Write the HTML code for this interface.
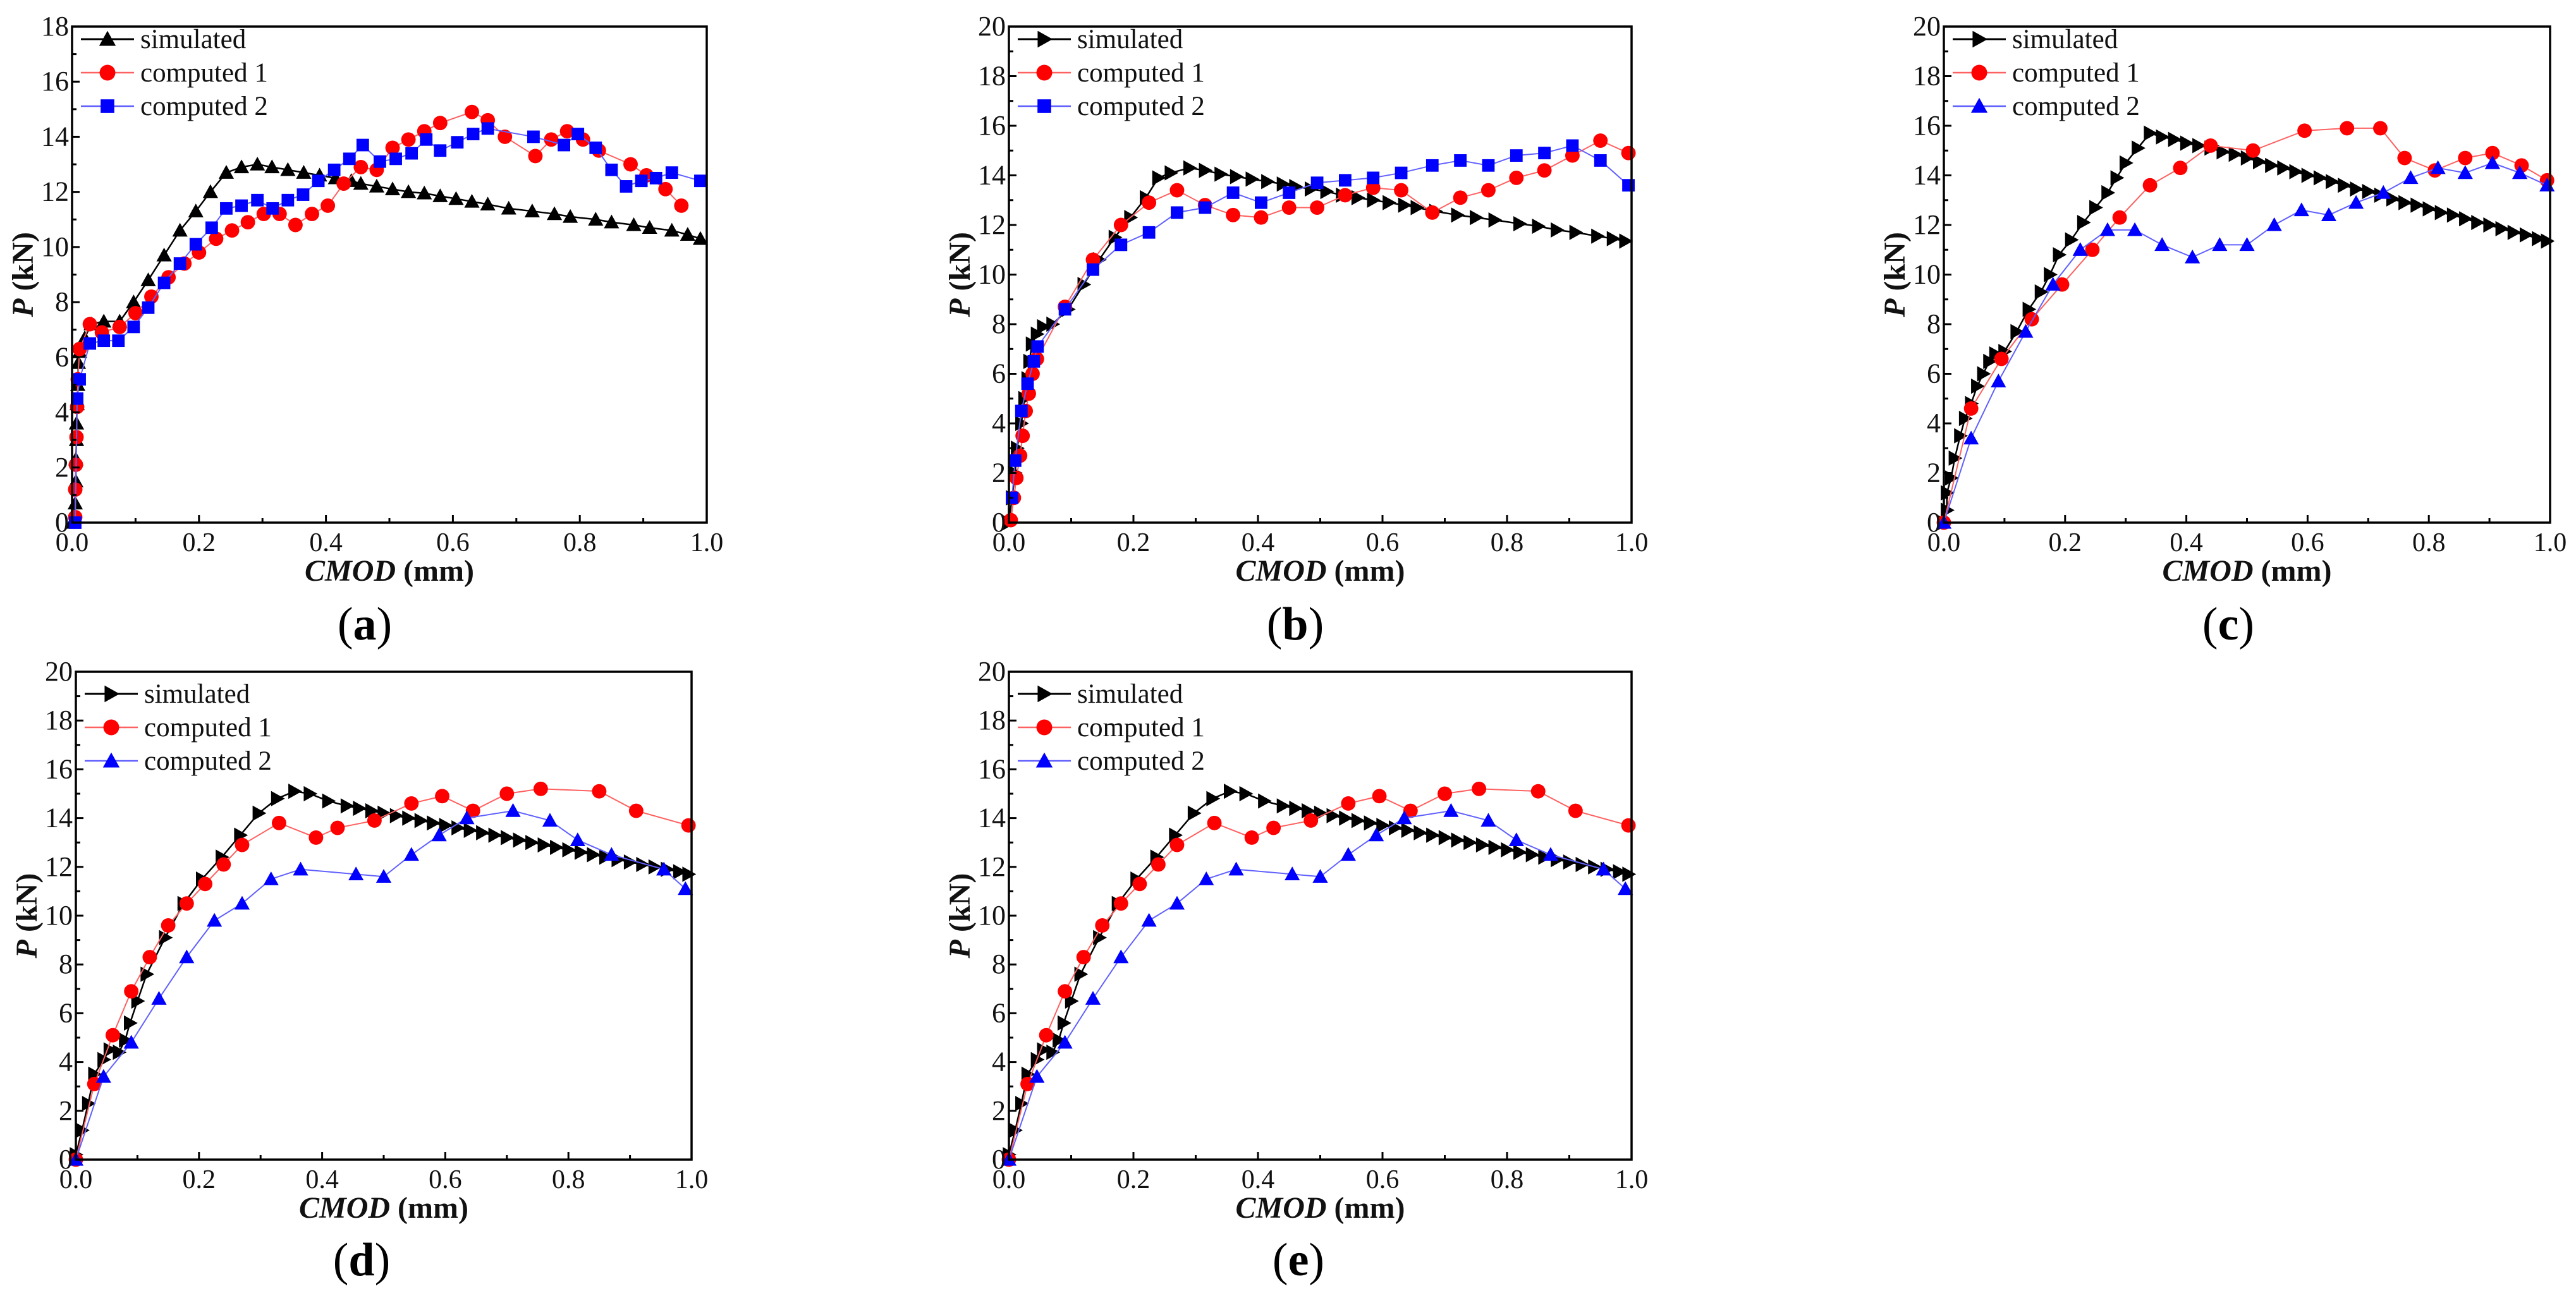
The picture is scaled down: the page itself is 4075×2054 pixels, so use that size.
<!DOCTYPE html>
<html><head><meta charset="utf-8"><style>
html,body{margin:0;padding:0;background:#fff;}
svg{display:block;font-family:"Liberation Serif",serif;}
</style></head><body>
<svg id="fig" width="4075" height="2054" viewBox="0 0 4075 2054" xmlns="http://www.w3.org/2000/svg"></svg>
<script>
// ---- Panel (a) data ----
const aSimX=[0,0.005,0.006,0.006,0.007,0.007,0.008,0.009,0.01,0.012,0.02,0.03,0.05,0.075,0.097,0.12,0.145,0.17,0.195,0.218,0.243,0.267,0.292,0.315,0.34,0.365,0.39,0.415,0.44,0.455,0.48,0.505,0.53,0.555,0.58,0.605,0.63,0.655,0.688,0.725,0.76,0.785,0.825,0.85,0.885,0.91,0.945,0.97,0.99];
const aSimY=[0,0.7,1.5,2.3,3,3.6,4.3,5,5.8,6.2,6.7,7.2,7.3,7.3,8,8.8,9.7,10.6,11.3,12,12.7,12.9,13,12.9,12.8,12.7,12.6,12.5,12.4,12.3,12.2,12.1,12.0,11.95,11.85,11.75,11.65,11.55,11.4,11.3,11.2,11.1,11.0,10.9,10.8,10.7,10.6,10.45,10.3];
const aC1X=[0.005,0.005,0.006,0.007,0.008,0.009,0.012,0.028,0.047,0.075,0.1,0.125,0.152,0.177,0.2,0.227,0.252,0.277,0.302,0.327,0.352,0.378,0.403,0.428,0.455,0.48,0.505,0.53,0.555,0.58,0.63,0.655,0.682,0.73,0.755,0.78,0.805,0.83,0.88,0.905,0.935,0.96];
const aC1Y=[0.2,1.2,2.1,3.1,4.2,5.2,6.3,7.2,6.9,7.1,7.6,8.2,8.9,9.4,9.8,10.3,10.6,10.9,11.2,11.2,10.8,11.2,11.5,12.3,12.9,12.8,13.6,13.9,14.2,14.5,14.9,14.6,14.0,13.3,13.9,14.2,13.9,13.5,13.0,12.6,12.1,11.5];
const aC2X=[0.005,0.008,0.012,0.028,0.05,0.073,0.097,0.12,0.145,0.17,0.195,0.22,0.243,0.267,0.292,0.316,0.34,0.364,0.388,0.413,0.437,0.458,0.485,0.51,0.535,0.558,0.58,0.607,0.632,0.655,0.727,0.775,0.797,0.825,0.85,0.873,0.897,0.92,0.945,0.99];
const aC2Y=[0,4.5,5.2,6.5,6.6,6.6,7.1,7.8,8.7,9.4,10.1,10.7,11.4,11.5,11.7,11.4,11.7,11.9,12.4,12.8,13.2,13.7,13.1,13.2,13.4,13.9,13.5,13.8,14.1,14.3,14.0,13.7,14.1,13.6,12.8,12.2,12.4,12.5,12.7,12.4];
// ---- Panel (b) data ----
const bSimX=[0,0.005,0.01,0.013,0.02,0.025,0.03,0.033,0.037,0.045,0.055,0.07,0.095,0.12,0.145,0.17,0.195,0.22,0.24,0.26,0.29,0.315,0.34,0.365,0.39,0.415,0.44,0.46,0.485,0.51,0.535,0.56,0.585,0.61,0.635,0.655,0.685,0.72,0.75,0.78,0.82,0.85,0.88,0.91,0.945,0.97,0.99];
const bSimY=[0,1,2,3,4,5,5.8,6.5,7.2,7.6,7.9,8,8.6,9.6,10.6,11.5,12.3,13.1,13.9,14.1,14.3,14.2,14.05,13.95,13.85,13.75,13.65,13.55,13.45,13.35,13.2,13.1,13.0,12.9,12.8,12.7,12.55,12.4,12.3,12.2,12.05,11.95,11.8,11.7,11.55,11.45,11.35];
const bC1X=[0.003,0.008,0.012,0.018,0.022,0.027,0.032,0.038,0.045,0.09,0.135,0.18,0.225,0.27,0.315,0.36,0.405,0.45,0.495,0.54,0.585,0.63,0.68,0.725,0.77,0.815,0.86,0.905,0.95,0.995];
const bC1Y=[0.1,1,1.8,2.7,3.5,4.5,5.2,6,6.6,8.7,10.6,12,12.9,13.4,12.8,12.4,12.3,12.7,12.7,13.2,13.5,13.4,12.5,13.1,13.4,13.9,14.2,14.8,15.4,14.9];
const bC2X=[0.005,0.01,0.02,0.03,0.04,0.046,0.09,0.135,0.18,0.225,0.27,0.315,0.36,0.405,0.45,0.495,0.54,0.585,0.63,0.68,0.725,0.77,0.815,0.86,0.905,0.95,0.995];
const bC2Y=[1,2.5,4.5,5.6,6.5,7.1,8.6,10.2,11.2,11.7,12.5,12.7,13.3,12.9,13.3,13.7,13.8,13.9,14.1,14.4,14.6,14.4,14.8,14.9,15.2,14.6,13.6];
// ---- Panel (c) data ----
const cSimX=[0,0.005,0.005,0.012,0.018,0.027,0.035,0.045,0.055,0.065,0.075,0.085,0.1,0.12,0.14,0.16,0.175,0.19,0.21,0.23,0.25,0.27,0.285,0.3,0.32,0.34,0.36,0.38,0.4,0.42,0.44,0.46,0.48,0.5,0.52,0.54,0.56,0.58,0.6,0.62,0.64,0.66,0.68,0.7,0.72,0.74,0.76,0.78,0.8,0.82,0.84,0.86,0.88,0.9,0.92,0.94,0.96,0.98,0.995];
const cSimY=[0,0.5,1.2,1.8,2.6,3.5,4.2,4.8,5.5,6,6.5,6.8,6.9,7.7,8.6,9.3,10,10.8,11.4,12.1,12.7,13.3,13.9,14.5,15.1,15.7,15.55,15.45,15.3,15.2,15.1,14.95,14.85,14.7,14.55,14.4,14.3,14.15,14.0,13.9,13.75,13.6,13.45,13.35,13.2,13.05,12.9,12.8,12.65,12.5,12.4,12.25,12.1,12.0,11.85,11.7,11.6,11.45,11.35];
const cC1X=[0,0.045,0.095,0.145,0.195,0.245,0.29,0.34,0.39,0.44,0.51,0.595,0.665,0.72,0.76,0.81,0.86,0.905,0.953,0.995];
const cC1Y=[0,4.6,6.6,8.2,9.6,11,12.3,13.6,14.3,15.2,15,15.8,15.9,15.9,14.7,14.2,14.7,14.9,14.4,13.8];
const cC2X=[0,0.045,0.09,0.135,0.18,0.225,0.27,0.315,0.36,0.41,0.455,0.5,0.545,0.59,0.635,0.68,0.725,0.77,0.815,0.86,0.905,0.95,0.995];
const cC2Y=[0,3.4,5.7,7.7,9.6,11,11.8,11.8,11.2,10.7,11.2,11.2,12,12.6,12.4,12.9,13.3,13.9,14.3,14.1,14.5,14.1,13.6];
// ---- Panel (d) data ----
const dSimX=[0,0.01,0.02,0.03,0.045,0.055,0.07,0.08,0.088,0.1,0.115,0.145,0.175,0.205,0.237,0.267,0.297,0.327,0.355,0.38,0.41,0.44,0.46,0.48,0.5,0.52,0.54,0.56,0.58,0.6,0.62,0.64,0.66,0.68,0.7,0.72,0.74,0.76,0.78,0.8,0.82,0.84,0.86,0.88,0.9,0.92,0.94,0.96,0.98,0.995];
const dSimY=[0.2,1.2,2.3,3.5,4.1,4.5,4.4,4.9,5.6,6.5,7.6,9.1,10.5,11.5,12.4,13.3,14.2,14.8,15.1,15,14.7,14.5,14.4,14.3,14.2,14.1,14.0,13.9,13.8,13.7,13.6,13.5,13.4,13.3,13.2,13.1,13.0,12.9,12.8,12.7,12.6,12.5,12.4,12.3,12.2,12.1,12.0,11.9,11.8,11.7];
const dC1X=[0,0.03,0.06,0.09,0.12,0.15,0.18,0.21,0.24,0.27,0.33,0.39,0.425,0.485,0.545,0.595,0.645,0.7,0.755,0.85,0.91,0.995];
const dC1Y=[0,3.1,5.1,6.9,8.3,9.6,10.5,11.3,12.1,12.9,13.8,13.2,13.6,13.9,14.6,14.9,14.3,15,15.2,15.1,14.3,13.7];
const dC2X=[0,0.045,0.09,0.135,0.18,0.225,0.27,0.317,0.365,0.455,0.5,0.545,0.59,0.635,0.71,0.77,0.815,0.87,0.955,0.99];
const dC2Y=[0,3.4,4.8,6.6,8.3,9.8,10.5,11.5,11.9,11.7,11.6,12.5,13.3,14,14.3,13.9,13.1,12.5,11.9,11.1];
// ---- Panel (e) data ----
const eSimX=dSimX.slice(), eSimY=dSimY.slice();
const eC1X=dC1X.slice(), eC1Y=dC1Y.slice();
const eC2X=dC2X.slice(), eC2Y=dC2Y.slice();
const xTicks=[0,0.2,0.4,0.6,0.8,1.0];
const xTickLabels=["0.0","0.2","0.4","0.6","0.8","1.0"];
const yTicks18=[0,2,4,6,8,10,12,14,16,18];
const yTicks20=[0,2,4,6,8,10,12,14,16,18,20];

const NS="http://www.w3.org/2000/svg";
const fig=document.getElementById('fig');
function mk(tag,attrs,parent){const e=document.createElementNS(NS,tag);for(const k in attrs)e.setAttribute(k,attrs[k]);(parent||fig).appendChild(e);return e;}

function marker(g,type,cx,cy,color,s){
  let el;
  if(type==='circle'){el=mk('circle',{cx:cx,cy:cy,r:s*0.52,fill:color},g);}
  else if(type==='square'){el=mk('rect',{x:cx-s*0.45,y:cy-s*0.45,width:s*0.9,height:s*0.9,fill:color},g);}
  else if(type==='up'){const h=s*0.55;el=mk('polygon',{points:`${cx},${cy-h} ${cx+h},${cy+h*0.8} ${cx-h},${cy+h*0.8}`,fill:color},g);}
  else {const h=s*0.55;el=mk('polygon',{points:`${cx+h},${cy} ${cx-h*0.8},${cy-h} ${cx-h*0.8},${cy+h}`,fill:color},g);}
  return el;
}

function panel(p){
  const g=mk('g',{});
  
  
  const X=v=>p.L+(p.R-p.L)*v;
  const Y=v=>p.B-(p.B-p.T)*v/p.ymax;
  p.series.forEach(s=>{
    const sg=mk('g',{},g);
    
    
    const pts=s.x.map((v,i)=>X(v)+','+Y(s.y[i])).join(' ');
    const pl=mk('polyline',{points:pts,fill:'none',stroke:s.line,'stroke-width':s.lw},sg);
    
    
    s.x.forEach((v,i)=>{
      const m=marker(sg,s.type,X(v),Y(s.y[i]),s.color,s.size);
      
      
    });
  });
  const fr=mk('rect',{x:p.L,y:p.T,width:p.R-p.L,height:p.B-p.T,fill:'none',stroke:'#000','stroke-width':3.5},g);
  
  
  xTicks.forEach((v,i)=>{
    mk('line',{x1:X(v),x2:X(v),y1:p.B,y2:p.B-12,stroke:'#000','stroke-width':3},g);
    if(v+0.1<1)mk('line',{x1:X(v+0.1),x2:X(v+0.1),y1:p.B,y2:p.B-7,stroke:'#000','stroke-width':3},g);
    const t=mk('text',{x:X(v),y:p.B+45,'font-size':42,'text-anchor':'middle',fill:'#111'},g);
    t.textContent=xTickLabels[i];
    
    
  });
  p.yTicks.forEach(v=>{
    mk('line',{x1:p.L,x2:p.L+12,y1:Y(v),y2:Y(v),stroke:'#000','stroke-width':3},g);
    if(v+1<p.ymax)mk('line',{x1:p.L,x2:p.L+7,y1:Y(v+1),y2:Y(v+1),stroke:'#000','stroke-width':3},g);
    const t=mk('text',{x:p.L-5,y:Y(v)+14,'font-size':44,'text-anchor':'end',fill:'#111'},g);
    t.textContent=String(v);
    
    
  });
  const xt=mk('text',{x:(p.L+p.R)/2,y:p.B+92,'font-size':48,'font-weight':'bold','text-anchor':'middle',fill:'#111'},g);
  xt.innerHTML='<tspan font-style="italic">CMOD</tspan> (mm)';
  
  
  const yx=p.L-62, yy=(p.T+p.B)/2;
  const yt=mk('text',{x:yx,y:yy,'font-size':48,'font-weight':'bold','text-anchor':'middle',fill:'#111',transform:`rotate(-90 ${yx} ${yy})`},g);
  yt.innerHTML='<tspan font-style="italic">P</tspan> (kN)';
  
  
  const lg=mk('g',{},g);
  
  
  const names=['simulated','computed 1','computed 2'];
  p.series.forEach((s,i)=>{
    const ly=p.T+p.legY+i*53;
    const e=mk('g',{},lg);
    
    
    mk('line',{x1:p.L+14,x2:p.L+98,y1:ly,y2:ly,stroke:s.line,'stroke-width':s.lw+0.5},e);
    marker(e,s.type,p.L+56,ly,s.color,s.size+2);
    const t=mk('text',{x:p.L+108,y:ly+14,'font-size':43,fill:'#111'},e);
    t.textContent=names[i];
  });
  const c=mk('text',{x:p.capX,y:p.capY,'font-size':74,'text-anchor':'middle',fill:'#000'},g);
  c.innerHTML='(<tspan font-weight="bold">'+p.id+'</tspan>)';
  
  
}
function S(key,x,y,type,color,line,lw,size){return {key,x,y,type,color,line,lw,size};}

panel({id:'a',L:114,R:1118,T:42,B:827,ymax:18,yTicks:yTicks18,legY:20,capX:577,capY:1012,
  series:[S('simulated',aSimX,aSimY,'up','#000','#000',2.5,22),S('computed-1',aC1X,aC1Y,'circle','#ff0000','#ff6060',2,22),S('computed-2',aC2X,aC2Y,'square','#0000ff','#6060ff',2,22)]});
panel({id:'b',L:1596,R:2581,T:42,B:827,ymax:20,yTicks:yTicks20,legY:20,capX:2049,capY:1012,
  series:[S('simulated',bSimX,bSimY,'right','#000','#000',2.5,22),S('computed-1',bC1X,bC1Y,'circle','#ff0000','#ff6060',2,22),S('computed-2',bC2X,bC2Y,'square','#0000ff','#6060ff',2,22)]});
panel({id:'c',L:3075,R:4034,T:42,B:827,ymax:20,yTicks:yTicks20,legY:20,capX:3525,capY:1012,
  series:[S('simulated',cSimX,cSimY,'right','#000','#000',2.5,22),S('computed-1',cC1X,cC1Y,'circle','#ff0000','#ff6060',2,22),S('computed-2',cC2X,cC2Y,'up','#0000ff','#6060ff',2,22)]});
panel({id:'d',L:120,R:1094,T:1063,B:1835,ymax:20,yTicks:yTicks20,legY:35,capX:572,capY:2018,
  series:[S('simulated',dSimX,dSimY,'right','#000','#000',2.5,22),S('computed-1',dC1X,dC1Y,'circle','#ff0000','#ff6060',2,22),S('computed-2',dC2X,dC2Y,'up','#0000ff','#6060ff',2,22)]});
panel({id:'e',L:1596,R:2581,T:1063,B:1835,ymax:20,yTicks:yTicks20,legY:35,capX:2054,capY:2018,
  series:[S('simulated',eSimX,eSimY,'right','#000','#000',2.5,22),S('computed-1',eC1X,eC1Y,'circle','#ff0000','#ff6060',2,22),S('computed-2',eC2X,eC2Y,'up','#0000ff','#6060ff',2,22)]});
</script>
</body></html>
